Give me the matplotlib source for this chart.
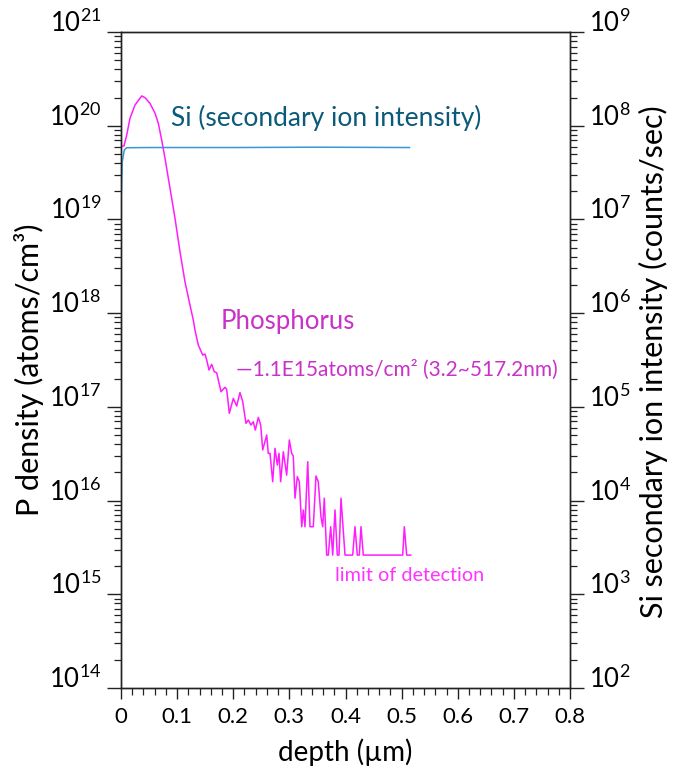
import matplotlib
matplotlib.use("Agg")
import matplotlib.pyplot as plt
from matplotlib.ticker import MultipleLocator, LogLocator, NullFormatter

plt.rcParams['font.family'] = ['Lato', 'DejaVu Sans']
plt.rcParams['mathtext.fontset'] = 'custom'
plt.rcParams['mathtext.rm'] = 'Lato'
plt.rcParams['mathtext.it'] = 'Lato:italic'
plt.rcParams['mathtext.bf'] = 'Lato:bold'

# ---- data ----
p_depth = [0.000, 0.0053, 0.0102, 0.0160, 0.0249, 0.0369, 0.0428, 0.0517, 0.0606, 0.0665,
           0.0725, 0.0784, 0.0873, 0.0962, 0.1051, 0.1140, 0.1229, 0.1288, 0.1318, 0.1377,
           0.1456, 0.1497, 0.1527, 0.1568, 0.1616, 0.1662, 0.1705, 0.1782, 0.1853, 0.1883,
           0.1930, 0.2001, 0.2061, 0.2120, 0.2168, 0.2227, 0.2268, 0.2316, 0.2357, 0.2393,
           0.2446, 0.2489, 0.2525, 0.2596, 0.2624, 0.2655, 0.2703, 0.2744, 0.2785, 0.2815,
           0.2845, 0.2892, 0.2952, 0.2999, 0.3041, 0.3070, 0.3100, 0.3141, 0.3177, 0.3220,
           0.3248, 0.3278, 0.3327, 0.3367, 0.3426, 0.3474, 0.3515, 0.3563, 0.3594, 0.3622,
           0.3665, 0.3694, 0.3736, 0.3772, 0.3813, 0.3854, 0.3884, 0.3920, 0.3991, 0.4128,
           0.4169, 0.4210, 0.4246, 0.4276, 0.4317, 0.5019, 0.5048, 0.5090, 0.5162]
p_density = [6.07e19, 6.07e19, 7.96e19, 1.20e20, 1.66e20, 2.08e20, 1.99e20, 1.73e20, 1.36e20, 1.06e20,
             7.04e19, 4.49e19, 2.15e19, 1.03e19, 4.53e18, 2.16e18, 1.22e18, 8.45e17, 6.61e17, 4.57e17,
             3.57e17, 3.66e17, 3.16e17, 2.47e17, 2.84e17, 2.37e17, 2.31e17, 1.45e17, 1.62e17, 1.54e17,
             8.53e16, 1.23e17, 1.02e17, 1.42e17, 1.14e17, 6.67e16, 7.24e16, 6.40e16, 6.94e16, 5.66e16,
             7.73e16, 6.40e16, 3.47e16, 5.01e16, 3.19e16, 3.19e16, 1.59e16, 3.61e16, 2.39e16, 3.19e16,
             1.59e16, 3.32e16, 1.87e16, 4.43e16, 3.19e16, 2.99e16, 1.06e16, 1.80e16, 1.59e16, 5.26e15,
             7.93e15, 5.26e15, 2.60e16, 5.26e15, 5.26e15, 1.83e16, 1.59e16, 6.73e15, 5.26e15, 1.06e16,
             2.62e15, 2.62e15, 5.26e15, 2.62e15, 7.93e15, 2.62e15, 2.62e15, 1.06e16, 2.62e15, 2.62e15,
             5.26e15, 2.62e15, 2.62e15, 5.26e15, 2.62e15, 2.62e15, 5.26e15, 2.62e15, 2.62e15]

si_depth = [0.000, 0.0023, 0.0059, 0.0101, 0.05, 0.20, 0.35, 0.514]
si_intensity = [1.43e7, 4.13e7, 5.51e7, 5.82e7, 5.85e7, 5.85e7, 5.9e7, 5.85e7]

x_ticks = [0, 0.1, 0.2, 0.3, 0.4, 0.5, 0.6, 0.7, 0.8]
x_ticklabels = ['0', '0.1', '0.2', '0.3', '0.4', '0.5', '0.6', '0.7', '0.8']
left_exps = [14, 15, 16, 17, 18, 19, 20, 21]
right_exps = [2, 3, 4, 5, 6, 7, 8, 9]

# ---- figure ----
W, H = 681, 778
fig = plt.figure(figsize=(W/100, H/100), dpi=100)
ax = fig.add_axes([121/W, 1-688/H, 449/W, 656/H])
ax2 = ax.twinx()

P_LINE = '#ff1cff'
SI_LINE = '#3a97d2'

ax.plot(p_depth, p_density, color=P_LINE, lw=1.1, zorder=3)
ax2.plot(si_depth, si_intensity, color=SI_LINE, lw=1.1, zorder=2)

ax.set_yscale('log')
ax2.set_yscale('log')
ax.set_xlim(0, 0.8)
ax.set_ylim(10.0**left_exps[0], 10.0**left_exps[-1])
ax2.set_ylim(10.0**right_exps[0], 10.0**right_exps[-1])

ax.set_xticks(x_ticks)
ax.set_xticklabels(x_ticklabels)
ax.xaxis.set_minor_locator(MultipleLocator(0.02))

ax.set_yticks([10.0**e for e in left_exps])
ax.set_yticklabels([r'$\mathregular{10^{%d}}$' % e for e in left_exps])
ax.yaxis.set_minor_locator(LogLocator(base=10, subs=range(2, 10), numticks=50))
ax.yaxis.set_minor_formatter(NullFormatter())

ax2.set_yticks([10.0**e for e in right_exps])
ax2.set_yticklabels([r'$\mathregular{10^{%d}}$' % e for e in right_exps])
ax2.yaxis.set_minor_locator(LogLocator(base=10, subs=range(2, 10), numticks=50))
ax2.yaxis.set_minor_formatter(NullFormatter())

for a in (ax, ax2):
    for s in a.spines.values():
        s.set_linewidth(1.0)
        s.set_color('#222222')

ax.tick_params(axis='y', which='major', direction='out', length=10, width=1.0, labelsize=18.5, pad=4, colors='#222222')
ax.tick_params(axis='y', which='minor', direction='out', length=5, width=0.9, colors='#222222')
ax2.tick_params(axis='y', which='major', direction='out', length=10, width=1.0, labelsize=18.5, pad=4, colors='#222222')
ax2.tick_params(axis='y', which='minor', direction='out', length=5, width=0.9, colors='#222222')
ax.tick_params(axis='x', which='major', direction='out', length=8, width=1.0, labelsize=16, pad=6, colors='#222222')
ax.tick_params(axis='x', which='minor', direction='out', length=5, width=0.9, colors='#222222')
ax.tick_params(axis='x', top=False, which='both')

for lab in ax.get_yticklabels() + ax2.get_yticklabels():
    lab.set_va('baseline')
    lab.set_color('black')
for lab in ax.get_xticklabels():
    lab.set_color('black')

# axis titles placed at their reference positions
fig.text(345/W, 1-752/H, 'depth (µm)', fontsize=20, ha='center', va='center')
fig.text(29/W, 1-370/H, 'P density (atoms/cm³)', fontsize=22, rotation=90,
         ha='center', va='center')
fig.text(653/W, 1-362/H, 'Si secondary ion intensity (counts/sec)', fontsize=22,
         rotation=90, ha='center', va='center')

ax.text(0.1114, 0.869, 'Si (secondary ion intensity)', transform=ax.transAxes,
        color='#0b5a7a', fontsize=19, ha='left', va='center')
ax.text(0.2227, 0.558, 'Phosphorus', transform=ax.transAxes,
        color='#c832c8', fontsize=18.5, ha='left', va='center')
ax.text(0.2561, 0.485, '—1.1E15atoms/cm² (3.2~517.2nm)', transform=ax.transAxes,
        color='#c832c8', fontsize=15, ha='left', va='center')
ax.text(0.4766, 0.172, 'limit of detection', transform=ax.transAxes,
        color='#ff33ff', fontsize=14.3, ha='left', va='center')

fig.savefig('out.png', dpi=100)
